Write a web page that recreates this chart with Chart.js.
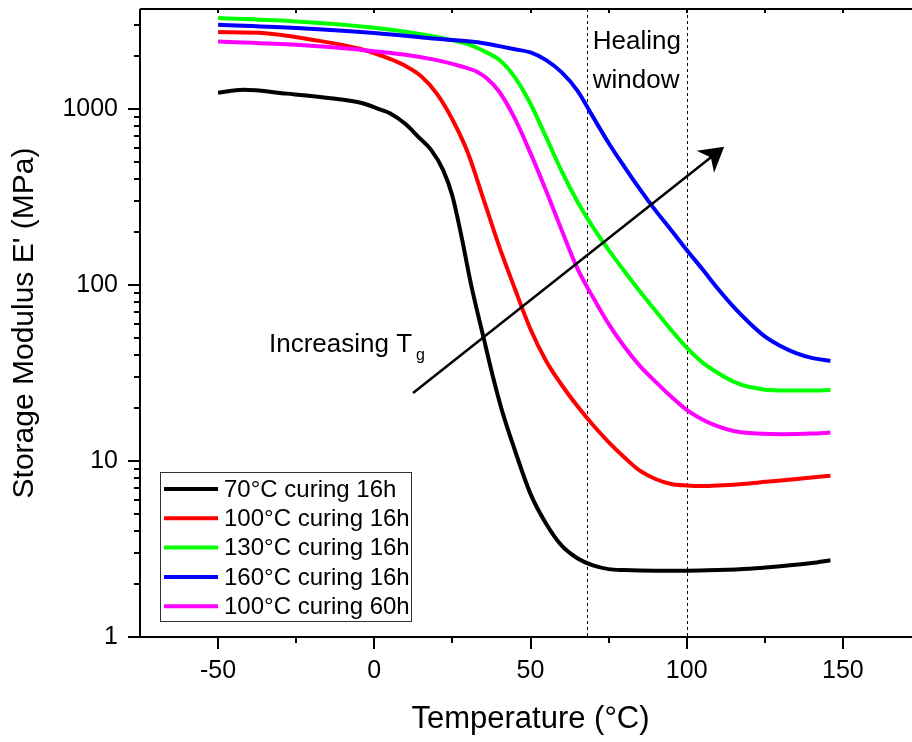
<!DOCTYPE html>
<html>
<head>
<meta charset="utf-8">
<script src="https://cdn.jsdelivr.net/npm/chart.js@4.4.0/dist/chart.umd.min.js"></script>
<style>
html, body { margin: 0; padding: 0; background: #fff; overflow: hidden; }
#wrap { width: 930px; height: 742px; }
</style>
</head>
<body>
<div id="wrap"><canvas id="chartCanvas"></canvas></div>
<script>
// values (temperature in °C, storage modulus in MPa)
const seriesLabels = ['70°C curing 16h', '100°C curing 16h', '130°C curing 16h', '160°C curing 16h', '100°C curing 60h'];
const seriesColors = ['#000000', '#ff0000', '#00ff00', '#0000ff', '#ff00ff'];

const tempBlack = [-50, -42, -28, -14, -4, 2, 5, 10, 14, 18, 22, 25, 28, 31, 35, 38, 41, 45, 50, 55, 60, 65, 70, 75, 80, 90, 100, 110, 120, 130, 140, 146];
const modBlack = [1233, 1283, 1220, 1150, 1080, 990, 945, 820, 696, 590, 450, 320, 185, 100, 50, 30, 19, 11.5, 6.5, 4.4, 3.3, 2.8, 2.55, 2.43, 2.4, 2.38, 2.38, 2.4, 2.44, 2.52, 2.63, 2.73];

const tempRed = [-50, -35, -20, -5, 5, 10, 15, 20, 25, 30, 35, 40, 45, 50, 55, 60, 65, 70, 75, 80, 85, 90, 95, 100, 105, 110, 120, 130, 140, 146];
const modRed = [2730, 2690, 2470, 2200, 1920, 1750, 1530, 1220, 870, 560, 305, 165, 95, 56, 37, 27, 20.5, 16, 12.8, 10.5, 8.8, 7.9, 7.4, 7.25, 7.2, 7.25, 7.45, 7.75, 8.05, 8.25];

const tempGreen = [-50, -25, 0, 15, 25, 30, 35, 40, 45, 50, 55, 60, 65, 70, 75, 80, 85, 90, 95, 100, 105, 110, 115, 120, 130, 140, 146];
const modGreen = [3280, 3135, 2890, 2650, 2450, 2330, 2130, 1900, 1510, 1069, 690, 441, 298, 213, 158, 120, 92, 71.4, 55.5, 44, 36.3, 31.6, 28.2, 26.3, 25.1, 25.1, 25.3];

const tempBlue = [-50, -25, 0, 20, 35, 40, 45, 50, 55, 60, 65, 70, 75, 80, 85, 90, 95, 100, 105, 110, 115, 120, 125, 130, 135, 140, 146];
const modBlue = [3005, 2880, 2700, 2500, 2360, 2270, 2180, 2090, 1890, 1610, 1270, 900, 640, 470, 350, 265, 205, 158, 123, 95, 75, 61, 51, 45, 41, 38.5, 37];

const tempMagenta = [-50, -25, -5, 10, 20, 28, 33, 36, 40, 45, 50, 55, 60, 65, 70, 75, 80, 85, 90, 95, 100, 105, 110, 115, 120, 130, 140, 146];
const modMagenta = [2415, 2310, 2170, 2030, 1890, 1740, 1620, 1490, 1250, 880, 560, 342, 204, 124, 85, 60, 44.7, 34.7, 28.2, 23.2, 19.5, 17.2, 15.7, 14.8, 14.4, 14.2, 14.3, 14.5];

const xTickValues = [-50, 0, 50, 100, 150];
const yTickValues = [1, 10, 100, 1000];
const healingWindow = [68, 100];

const FONT = "'Liberation Sans', Arial, sans-serif";

function toPoints(xs, ys) {
    return xs.map((t, i) => ({ x: t, y: ys[i] }));
}

const allTemps = [tempBlack, tempRed, tempGreen, tempBlue, tempMagenta];
const allMods = [modBlack, modRed, modGreen, modBlue, modMagenta];

const datasets = seriesLabels.map((label, i) => ({
    label: label,
    data: toPoints(allTemps[i], allMods[i]),
    borderColor: seriesColors[i],
    borderWidth: 4,
    pointRadius: 0,
    fill: false,
    cubicInterpolationMode: 'monotone',
    order: seriesLabels.length - i, // later series sit on top, like the original
}));

// axes frame, tick marks, healing window, arrow, labels and legend
const decorPlugin = {
    id: 'decor',
    beforeDatasetsDraw(chart) {
        const { ctx, chartArea: a, scales: { x } } = chart;
        ctx.save();
        ctx.setLineDash([3, 3]);
        ctx.lineWidth = 1;
        ctx.strokeStyle = '#000';
        healingWindow.forEach(t => {
            const px = Math.round(x.getPixelForValue(t)) + 0.5;
            ctx.beginPath();
            ctx.moveTo(px, a.top);
            ctx.lineTo(px, a.bottom);
            ctx.stroke();
        });
        ctx.restore();
    },
    afterDraw(chart) {
        const { ctx, chartArea: a, scales: { x, y } } = chart;
        ctx.save();
        ctx.strokeStyle = '#000';
        ctx.fillStyle = '#000';

        // axis lines
        ctx.lineWidth = 2;
        ctx.beginPath();
        ctx.moveTo(a.left, a.top);
        ctx.lineTo(a.left, a.bottom);
        ctx.lineTo(a.right, a.bottom);
        ctx.moveTo(a.left, a.top);
        ctx.lineTo(a.right, a.top);
        ctx.stroke();

        // x ticks: majors every 50, minors every 25
        for (let t = -50; t <= x.max; t += 25) {
            const px = Math.round(x.getPixelForValue(t));
            const len = t % 50 === 0 ? 12 : 6;
            ctx.beginPath();
            ctx.moveTo(px, a.bottom);
            ctx.lineTo(px, a.bottom + len);
            ctx.moveTo(px, a.top);
            ctx.lineTo(px, a.top + 4);
            ctx.stroke();
        }

        // y ticks: decades and 2..9 minors
        for (let d = 1; d <= 1000; d *= 10) {
            for (let m = 1; m <= 9; m++) {
                const v = m * d;
                if (v > y.max) break;
                const py = Math.round(y.getPixelForValue(v));
                ctx.beginPath();
                ctx.moveTo(a.left, py);
                ctx.lineTo(a.left - (m === 1 ? 12 : 6), py);
                ctx.stroke();
            }
        }

        // "Increasing Tg" arrow
        const x0 = x.getPixelForValue(12.4), y0 = y.getPixelForValue(24.3);
        const x1 = x.getPixelForValue(112), y1 = y.getPixelForValue(608);
        const ang = Math.atan2(y1 - y0, x1 - x0);
        ctx.lineWidth = 2.5;
        ctx.beginPath();
        ctx.moveTo(x0, y0);
        ctx.lineTo(x1 - 12 * Math.cos(ang), y1 - 12 * Math.sin(ang));
        ctx.stroke();
        ctx.save();
        ctx.translate(x1, y1);
        ctx.rotate(ang);
        ctx.beginPath();
        ctx.moveTo(0, 0);
        ctx.lineTo(-24, -14);
        ctx.lineTo(-17, 0);
        ctx.lineTo(-24, 14);
        ctx.closePath();
        ctx.fill();
        ctx.restore();

        // annotations
        ctx.font = '26px ' + FONT;
        ctx.textAlign = 'left';
        ctx.textBaseline = 'alphabetic';
        const hx = x.getPixelForValue(healingWindow[0]) + 6;
        ctx.fillText('Healing', hx, 49);
        ctx.fillText('window', hx, 88);
        ctx.fillText('Increasing T', 269, 352);
        const tw = ctx.measureText('Increasing T').width;
        ctx.font = '16px ' + FONT;
        ctx.fillText('g', 269 + tw + 4, 360);

        // legend box
        const lx = a.left + 20, ly = a.bottom - 165;
        ctx.lineWidth = 1;
        ctx.strokeStyle = '#333';
        ctx.strokeRect(lx + 0.5, ly + 0.5, 251, 149);
        ctx.font = '24px ' + FONT;
        ctx.textBaseline = 'middle';
        chart.data.datasets.forEach((ds, i) => {
            const ry = ly + 17 + i * 29.3;
            ctx.strokeStyle = ds.borderColor;
            ctx.lineWidth = 4;
            ctx.beginPath();
            ctx.moveTo(lx + 4, ry);
            ctx.lineTo(lx + 58, ry);
            ctx.stroke();
            ctx.fillStyle = '#000';
            ctx.fillText(ds.label, lx + 64, ry + 1);
        });
        ctx.restore();
    }
};

const chart = new Chart(document.getElementById('chartCanvas'), {
    type: 'line',
    data: { datasets: datasets },
    options: {
        responsive: true,
        maintainAspectRatio: false,
        animation: false,
        layout: { padding: { top: 9, right: 9, left: 0, bottom: 0 } },
        plugins: {
            legend: { display: false },
            tooltip: { enabled: false },
        },
        scales: {
            x: {
                type: 'linear',
                min: -75,
                max: 175,
                grid: { display: false, drawTicks: false },
                border: { display: false },
                afterBuildTicks: s => { s.ticks = xTickValues.map(v => ({ value: v })); },
                afterFit: s => { s.height = 105; s.paddingLeft = 0; s.paddingRight = 0; },
                ticks: {
                    color: '#000',
                    padding: 19,
                    maxRotation: 0,
                    font: { family: FONT, size: 25 },
                    callback: v => String(v),
                },
                title: {
                    display: true,
                    text: 'Temperature (°C)',
                    color: '#000',
                    font: { family: FONT, size: 31 },
                    padding: { top: 0, bottom: 4 },
                },
            },
            y: {
                type: 'logarithmic',
                min: 1,
                max: 3690,
                grid: { display: false, drawTicks: false },
                border: { display: false },
                afterBuildTicks: s => { s.ticks = yTickValues.map(v => ({ value: v })); },
                afterFit: s => { s.width = 140; s.paddingTop = 0; s.paddingBottom = 0; },
                ticks: {
                    color: '#000',
                    padding: 22,
                    font: { family: FONT, size: 25 },
                    callback: v => String(v),
                },
                title: {
                    display: true,
                    text: "Storage Modulus E' (MPa)",
                    color: '#000',
                    font: { family: FONT, size: 30 },
                    padding: { top: 7, bottom: 0 },
                },
            },
        },
    },
    plugins: [decorPlugin],
});
</script>
</body>
</html>
